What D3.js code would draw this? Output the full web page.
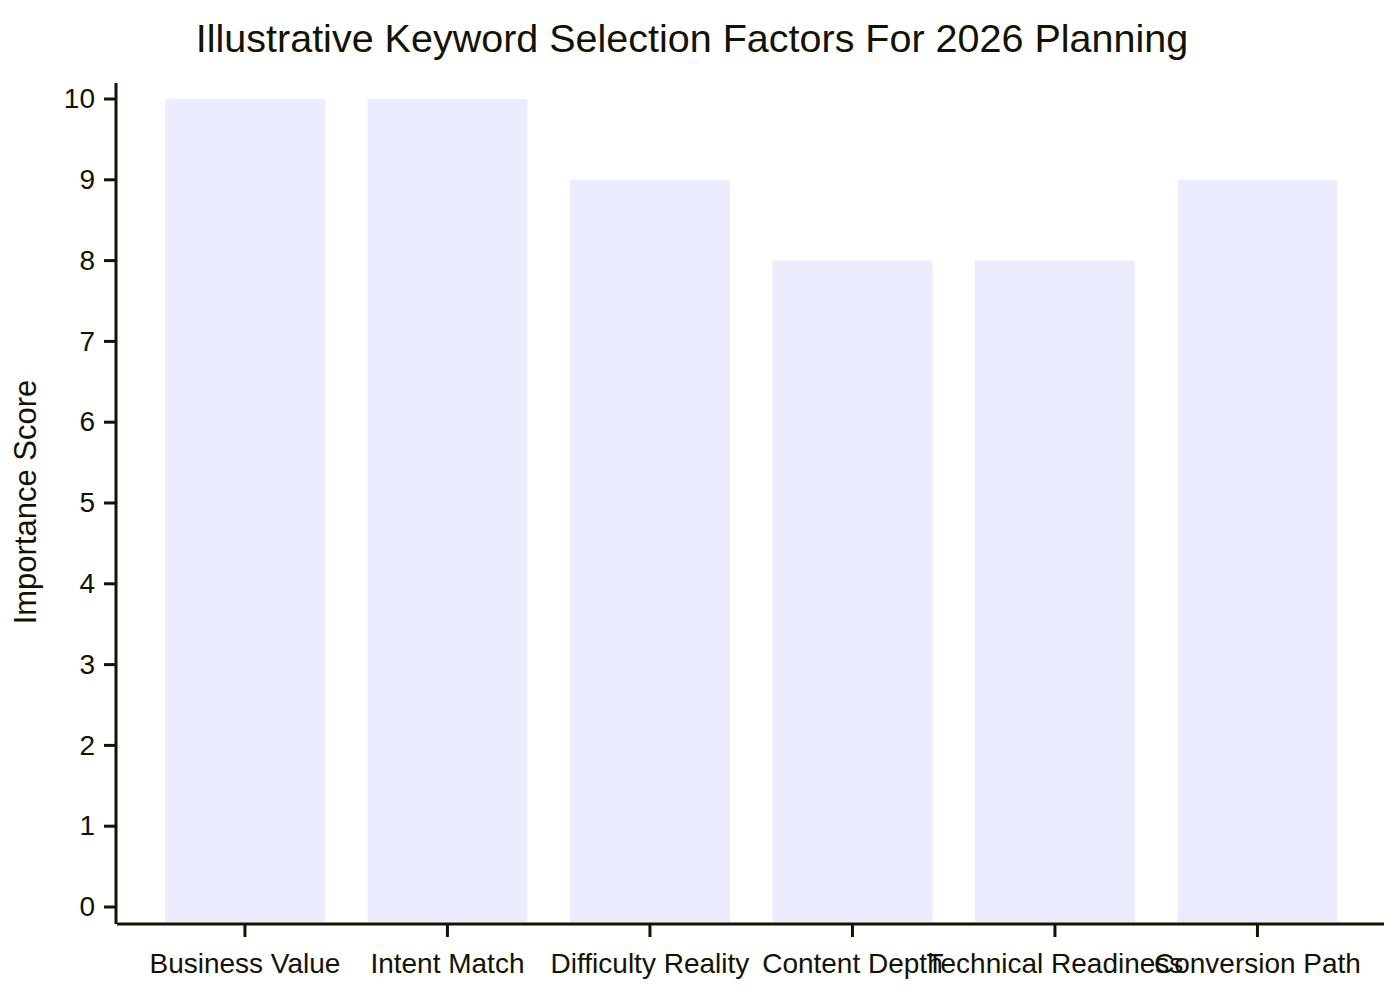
<!DOCTYPE html>
<html lang="en">
<head>
<meta charset="UTF-8">
<title>Keyword Selection Factors</title>
<script src="https://d3js.org/d3.v7.min.js"></script>
<style>
  body { margin: 0; background: #fff; }
  text { font-family: "Liberation Sans", Arial, sans-serif; fill: #131300; }
</style>
</head>
<body>
<div id="chart"></div>
<script>
// data
var categories = ["Business Value", "Intent Match", "Difficulty Reality", "Content Depth", "Technical Readiness", "Conversion Path"];
var scores = [10, 10, 9, 8, 8, 9];
var yTicks = [0, 1, 2, 3, 4, 5, 6, 7, 8, 9, 10];
var chartTitle = "Illustrative Keyword Selection Factors For 2026 Planning";
var yTitle = "Importance Score";

var width = 1400, height = 1000;
var axisColor = "#131300";

var svg = d3.select("#chart").append("svg")
    .attr("width", width)
    .attr("height", height);

// scales
var x = d3.scaleBand()
    .domain(categories)
    .range([143.7, 1358.7])
    .paddingInner(0.21)
    .paddingOuter(0.105);

var y = d3.scaleLinear().domain([0, 10]).range([907, 99]);
var plotBottom = 922;

// bars
svg.selectAll("rect.bar")
    .data(scores)
    .enter().append("rect")
    .attr("class", "bar")
    .attr("x", function(d, i) { return x(categories[i]); })
    .attr("width", x.bandwidth())
    .attr("y", function(d) { return y(d); })
    .attr("height", function(d) { return plotBottom - y(d); })
    .attr("fill", "#ECECFF");

// y axis
svg.append("line")
    .attr("x1", 116).attr("x2", 116)
    .attr("y1", 83).attr("y2", 924)
    .attr("stroke", axisColor).attr("stroke-width", 3);

svg.selectAll("line.ytick")
    .data(yTicks)
    .enter().append("line")
    .attr("class", "ytick")
    .attr("x1", 104).attr("x2", 116)
    .attr("y1", function(d) { return y(d); })
    .attr("y2", function(d) { return y(d); })
    .attr("stroke", axisColor).attr("stroke-width", 3);

svg.selectAll("text.ytick")
    .data(yTicks)
    .enter().append("text")
    .attr("class", "ytick")
    .attr("x", 95)
    .attr("y", function(d) { return y(d); })
    .attr("dy", "0.33em")
    .attr("text-anchor", "end")
    .style("font-size", "28px")
    .text(function(d) { return d; });

// x axis
svg.append("line")
    .attr("x1", 117).attr("x2", 1384)
    .attr("y1", 924).attr("y2", 924)
    .attr("stroke", axisColor).attr("stroke-width", 3);

svg.selectAll("line.xtick")
    .data(categories)
    .enter().append("line")
    .attr("class", "xtick")
    .attr("x1", function(d) { return x(d) + x.bandwidth() / 2; })
    .attr("x2", function(d) { return x(d) + x.bandwidth() / 2; })
    .attr("y1", 924).attr("y2", 937)
    .attr("stroke", axisColor).attr("stroke-width", 3);

// labels overlap at the right end, as in the source chart
svg.selectAll("text.xtick")
    .data(categories)
    .enter().append("text")
    .attr("class", "xtick")
    .attr("x", function(d) { return x(d) + x.bandwidth() / 2; })
    .attr("y", 973)
    .attr("text-anchor", "middle")
    .style("font-size", "28px")
    .text(function(d) { return d; });

// titles
svg.append("text")
    .attr("x", 692)
    .attr("y", 52)
    .attr("text-anchor", "middle")
    .style("font-size", "39.5px")
    .text(chartTitle);

svg.append("text")
    .attr("transform", "translate(36,502) rotate(-90)")
    .attr("text-anchor", "middle")
    .style("font-size", "31px")
    .text(yTitle);
</script>
</body>
</html>
